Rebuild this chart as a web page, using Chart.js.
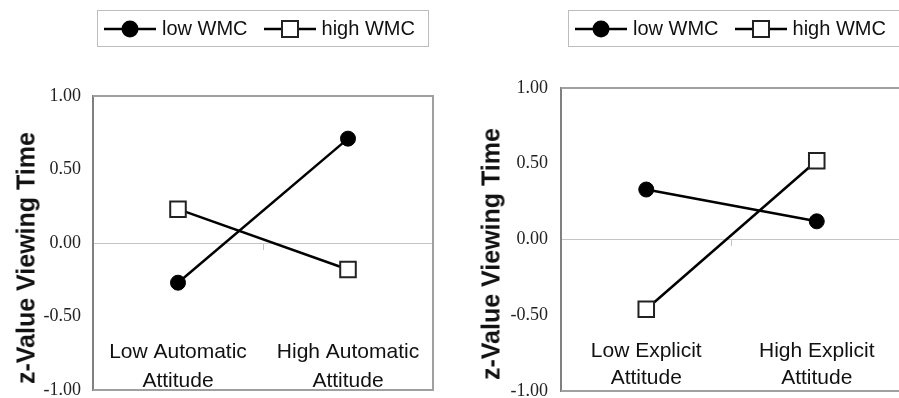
<!DOCTYPE html>
<html>
<head>
<meta charset="utf-8">
<script src="https://cdn.jsdelivr.net/npm/chart.js@4/dist/chart.umd.min.js"></script>
<style>
    html, body { margin: 0; padding: 0; background: #fff; }
    body { width: 899px; height: 398px; overflow: hidden; position: relative; font-family: "Liberation Sans", Arial, sans-serif; }
    .panel { position: absolute; top: 0; height: 398px; }
    .panel canvas { display: block; }
    .legend { position: absolute; top: 10px; height: 35px; border: 1px solid #bdbdbd; display: flex; align-items: center; font-size: 20px; color: #111; white-space: nowrap; }
    .legend .item { display: flex; align-items: center; }
    .legend svg { display: block; margin-right: 6px; }
    .ytitle { position: absolute; font-weight: bold; font-size: 25px; line-height: 25px; color: #111; white-space: nowrap; transform: translate(-50%, -50%) rotate(-90deg); }
</style>
</head>
<body>
<div class="panel" id="leftPanel" style="left:0;width:450px"><canvas id="leftChart" width="450" height="398"></canvas></div>
<div class="panel" id="rightPanel" style="left:450px;width:460px"><canvas id="rightChart" width="460" height="398"></canvas></div>
<div class="legend" id="leftLegend" style="left:97px;width:330px"></div>
<div class="legend" id="rightLegend" style="left:568px;width:340px"></div>
<div class="ytitle" style="left:26px;top:258px">z-Value Viewing Time</div>
<div class="ytitle" style="left:491px;top:254px">z-Value Viewing Time</div>
<script>
const seriesNames = ['low WMC', 'high WMC'];
const leftCategories = [['Low Automatic', 'Attitude'], ['High Automatic', 'Attitude']];
const rightCategories = [['Low Explicit', 'Attitude'], ['High Explicit', 'Attitude']];
const leftLowWMC = [-0.27, 0.71];
const leftHighWMC = [0.23, -0.18];
const rightLowWMC = [0.33, 0.12];
const rightHighWMC = [-0.46, 0.52];
const yMin = -1, yMax = 1, yStep = 0.5;

// box around the plot area (left side comes from the y axis border)
const plotFrame = {
    id: 'plotFrame',
    beforeDatasetsDraw(chart) {
        const a = chart.chartArea;
        const ctx = chart.ctx;
        ctx.save();
        ctx.strokeStyle = '#a0a0a0';
        ctx.lineWidth = 2;
        ctx.beginPath();
        ctx.moveTo(a.left, a.top);
        ctx.lineTo(a.right, a.top);
        ctx.lineTo(a.right, a.bottom);
        ctx.lineTo(a.left, a.bottom);
        ctx.stroke();
        ctx.restore();
    }
};

// keep label overhang from shrinking the plot area
function noPadding(scale) {
    scale.paddingLeft = 0;
    scale.paddingRight = 0;
    scale.paddingTop = 0;
    scale.paddingBottom = 0;
}

function makeDatasets(lowVals, highVals) {
    return [
        {
            label: seriesNames[0],
            data: lowVals,
            borderColor: '#000',
            backgroundColor: '#000',
            borderWidth: 2.5,
            pointStyle: 'circle',
            pointRadius: 7.5,
            pointBorderWidth: 1,
            pointBackgroundColor: '#000',
            pointBorderColor: '#000',
            tension: 0
        },
        {
            label: seriesNames[1],
            data: highVals,
            borderColor: '#000',
            backgroundColor: '#fff',
            borderWidth: 2.5,
            pointStyle: 'rect',
            pointRadius: 11,
            pointBorderWidth: 2,
            pointBackgroundColor: '#fff',
            pointBorderColor: '#222',
            tension: 0
        }
    ];
}

function makeChart(canvasId, labels, lowVals, highVals, opts) {
    return new Chart(document.getElementById(canvasId), {
        type: 'line',
        data: { labels: labels, datasets: makeDatasets(lowVals, highVals) },
        plugins: [plotFrame],
        options: {
            responsive: false,
            animation: false,
            clip: false,
            layout: { padding: opts.padding, autoPadding: false },
            plugins: {
                legend: { display: false },
                tooltip: { enabled: false }
            },
            scales: {
                x: {
                    type: 'category',
                    position: { y: 0 },
                    offset: true,
                    afterFit: noPadding,
                    grid: {
                        display: true,
                        offset: true,
                        drawOnChartArea: false,
                        drawTicks: true,
                        tickLength: 6,
                        color: '#c4c4c4'
                    },
                    border: { display: true, color: '#c4c4c4', width: 1 },
                    ticks: {
                        color: '#111',
                        padding: opts.labelPad,
                        maxRotation: 0,
                        autoSkip: false,
                        font: { family: '"Liberation Sans", Arial, sans-serif', size: 21, lineHeight: opts.lineHeight }
                    }
                },
                y: {
                    min: yMin,
                    max: yMax,
                    afterFit: (scale) => { scale.width = opts.yWidth; noPadding(scale); },
                    grid: { display: false, drawTicks: false },
                    border: { display: true, color: '#808080', width: 2 },
                    ticks: {
                        stepSize: yStep,
                        padding: opts.tickPad,
                        color: '#222',
                        font: { family: '"Liberation Serif", "Times New Roman", serif', size: 18 },
                        callback: (v) => v.toFixed(2)
                    }
                }
            }
        }
    });
}

function buildLegend(el, chart) {
    chart.data.datasets.forEach((ds, i) => {
        const item = document.createElement('div');
        item.className = 'item';
        item.style.marginLeft = i === 0 ? '6px' : '16px';
        const marker = ds.pointStyle === 'circle'
            ? '<circle cx="26" cy="10" r="8.5" fill="#000"/>'
            : '<rect x="18" y="2" width="16" height="16" fill="#fff" stroke="#222" stroke-width="2"/>';
        item.innerHTML = '<svg width="52" height="20"><line x1="0" y1="10" x2="52" y2="10" stroke="#000" stroke-width="2.5"/>' + marker + '</svg><span>' + ds.label + '</span>';
        el.appendChild(item);
    });
}

const leftChart = makeChart('leftChart', leftCategories, leftLowWMC, leftHighWMC, {
    padding: { top: 96, right: 17, bottom: 8, left: 0 },
    yWidth: 93,
    tickPad: 12,
    labelPad: 89,
    lineHeight: 1.38
});

const rightChart = makeChart('rightChart', rightCategories, rightLowWMC, rightHighWMC, {
    padding: { top: 88, right: 8, bottom: 7, left: 0 },
    yWidth: 111,
    tickPad: 13,
    labelPad: 92,
    lineHeight: 1.28
});

buildLegend(document.getElementById('leftLegend'), leftChart);
buildLegend(document.getElementById('rightLegend'), rightChart);
</script>
</body>
</html>
